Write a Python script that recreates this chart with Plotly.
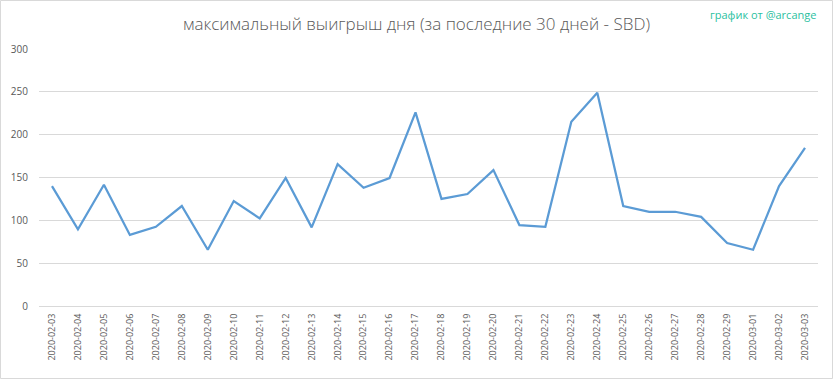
import plotly.graph_objects as go

dates = ["2020-02-03", "2020-02-04", "2020-02-05", "2020-02-06", "2020-02-07", "2020-02-08",
         "2020-02-09", "2020-02-10", "2020-02-11", "2020-02-12", "2020-02-13", "2020-02-14",
         "2020-02-15", "2020-02-16", "2020-02-17", "2020-02-18", "2020-02-19", "2020-02-20",
         "2020-02-21", "2020-02-22", "2020-02-23", "2020-02-24", "2020-02-25", "2020-02-26",
         "2020-02-27", "2020-02-28", "2020-02-29", "2020-03-01", "2020-03-02", "2020-03-03"]
max_win = [140, 89.5, 141.5, 83, 92.5, 116.7, 65.7, 122.5, 102.3, 149.4, 91.8, 165.7,
           138, 149.4, 226, 125, 130.7, 158.7, 94.5, 92.5, 215, 249, 116.7, 110,
           110, 104, 73.5, 65.7, 140, 184.5]
y_ticks = [0, 50, 100, 150, 200, 250, 300]

W, H = 833, 379
ml, mr, mt, mb = 39, 15, 49, 73

fig = go.Figure()
fig.add_trace(go.Scatter(x=dates, y=max_win, mode="lines",
                         line=dict(color="#5b9bd5", width=2.25), hoverinfo="x+y"))

pw = W - ml - mr
ph = H - mt - mb
fig.update_layout(
    width=W, height=H,
    margin=dict(l=ml, r=mr, t=mt, b=mb, autoexpand=False),
    paper_bgcolor="white", plot_bgcolor="white",
    showlegend=False,
    font=dict(family="Open Sans, sans-serif", color="#595959"),
    title=dict(text="максимальный выигрыш дня (за последние 30 дней - SBD)",
               x=0.5, xanchor="center", y=1 - 24 / H, yanchor="middle",
               font=dict(size=17, color="#595959", family="Open Sans, sans-serif", weight=300)),
    xaxis=dict(type="category", range=[-0.5, len(dates) - 0.5], tickangle=-90,
               showgrid=False, showline=True,
               linecolor="#d9d9d9", linewidth=1, ticks="", automargin=False,
               tickfont=dict(size=9, color="#595959", family="Open Sans, sans-serif"),
               ticklabelstandoff=3),
    yaxis=dict(range=[0, 300], tickvals=y_ticks, showgrid=True, gridcolor="#d9d9d9",
               gridwidth=1, zeroline=False, showline=False, ticks="", automargin=False,
               tickfont=dict(size=10, color="#595959", family="Open Sans, sans-serif"),
               ticklabelstandoff=10),
    annotations=[dict(text="график от @arcange", xref="paper", yref="paper",
                      x=(818 - ml) / pw, xanchor="right",
                      y=1 + (mt - 14) / ph, yanchor="middle", showarrow=False,
                      font=dict(size=11, color="#2bbf9f", family="Open Sans, sans-serif"))],
    shapes=[dict(type="rect", xref="paper", yref="paper",
                 x0=-(ml - 0.5) / pw, x1=1 + (mr - 0.5) / pw,
                 y0=-(mb - 0.5) / ph, y1=1 + (mt - 0.5) / ph,
                 line=dict(color="#d9d9d9", width=1), layer="below")],
)

fig.write_html("out.html", config={"displayModeBar": False},
               post_script="document.body.style.margin='0';document.body.style.padding='0';")
